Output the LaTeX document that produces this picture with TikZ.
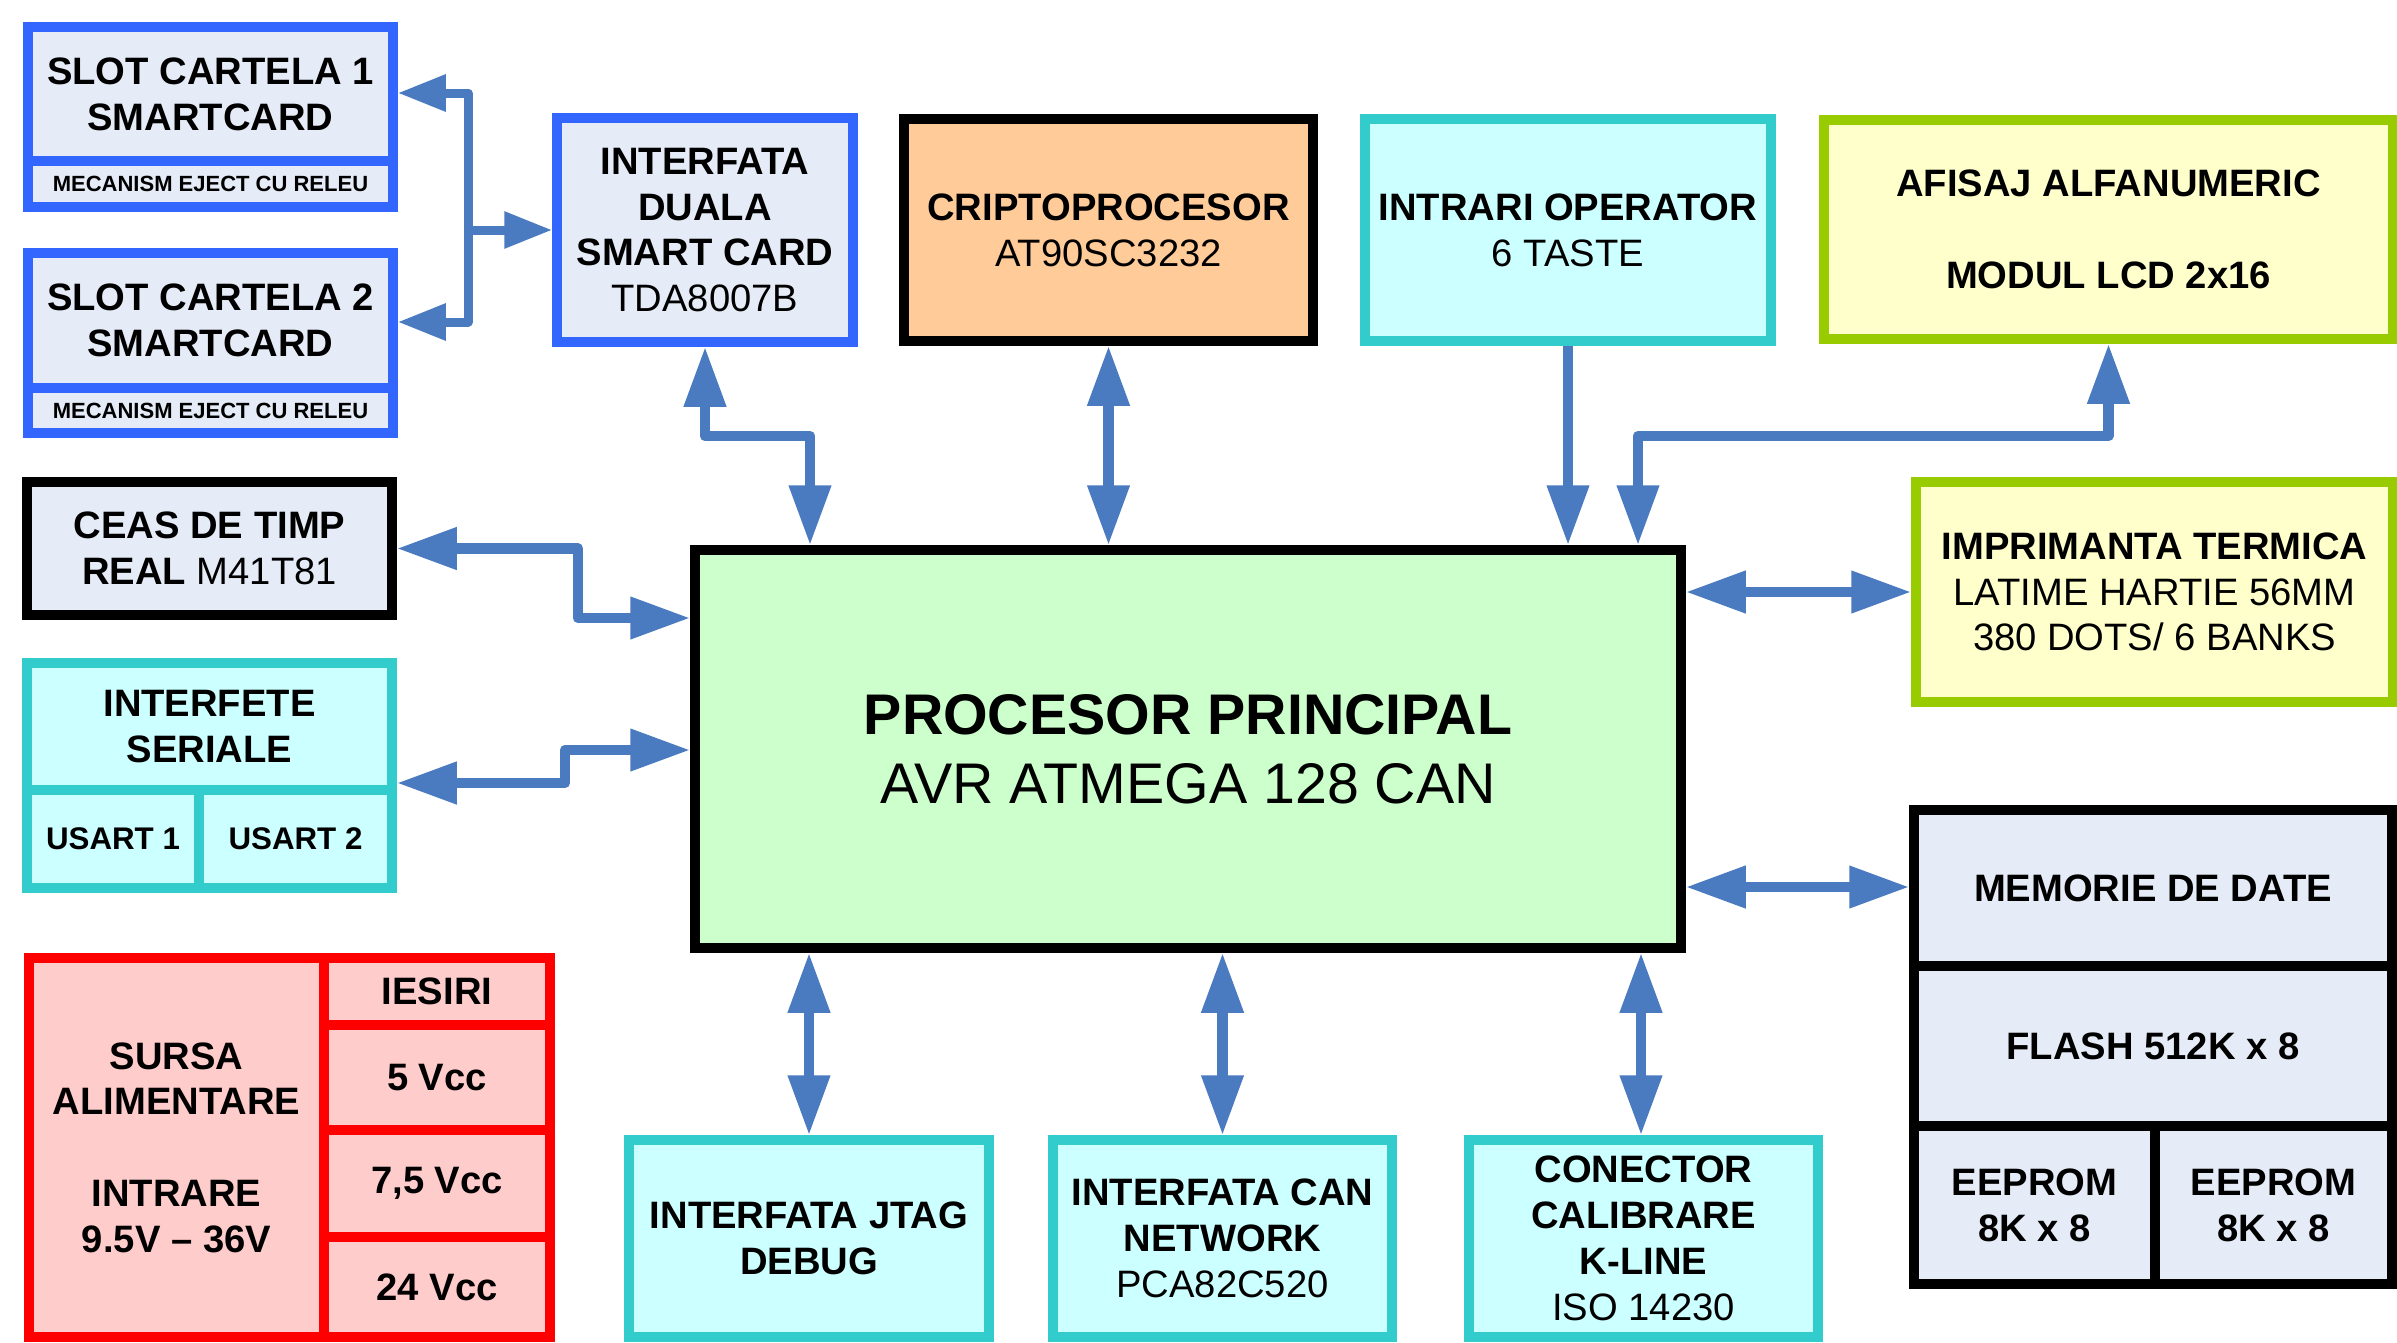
\documentclass[tikz,border=0pt]{standalone}
\usepackage{fontspec}
\setmainfont{Liberation Sans}
\usetikzlibrary{arrows.meta}
\definecolor{cBlueB}{HTML}{3366FF}
\definecolor{cBlueF}{HTML}{E6ECF7}
\definecolor{cCyanB}{HTML}{33CCCC}
\definecolor{cCyanF}{HTML}{CCFFFF}
\definecolor{cGreenB}{HTML}{99CC00}
\definecolor{cGreenF}{HTML}{FFFFCC}
\definecolor{cOrange}{HTML}{FFCC99}
\definecolor{cMain}{HTML}{CCFFCC}
\definecolor{cRedB}{HTML}{FF0000}
\definecolor{cRedF}{HTML}{FFCCCC}
\definecolor{cArrow}{HTML}{4A7AC0}
\tikzset{
  bx/.style={draw, line width=9.5pt, inner sep=0pt, align=center, text=black,
    font=\bfseries\fontsize{38.2}{45.8}\selectfont},
  bluebx/.style={bx, draw=cBlueB, fill=cBlueF},
  blackbx/.style={bx, draw=black, fill=cBlueF},
  orangebx/.style={bx, draw=black, fill=cOrange},
  mainbx/.style={bx, draw=black, fill=cMain, font=\bfseries\fontsize{57.3}{69}\selectfont},
  cyanbx/.style={bx, draw=cCyanB, fill=cCyanF},
  greenbx/.style={bx, draw=cGreenB, fill=cGreenF},
  redbx/.style={bx, draw=cRedB, fill=cRedF},
  smalltxt/.style={font=\bfseries\fontsize{22}{26}\selectfont},
  usarttxt/.style={font=\bfseries\fontsize{31.3}{37.5}\selectfont},
  wire/.style={draw=cArrow, line width=10.5pt, line join=round},
  slotwire/.style={draw=cArrow, line width=9pt, line join=round, >={Triangle[length=48pt,width=35pt]}},
}
\newcommand\BX[7]{\node[#1, minimum width={(#5)-(#3)}, minimum height={(#6)-(#4)}] (#2) at ({((#3)+(#5))/2},{((#4)+(#6))/2}) {#7};}
\begin{document}
\begin{tikzpicture}[x=1pt,y=-1pt,>={Triangle[length=60pt,width=40pt]}]
\useasboundingbox (0,0) rectangle (2397,1342);
\clip (0,0) rectangle (2397,1342);
\fill[white] (0,0) rectangle (2397,1342);

% smartcard slots
\BX{bluebx}{slot1a}{28}{27}{393}{161}{SLOT CARTELA 1\\SMARTCARD}
\BX{bluebx,smalltxt}{slot1b}{28}{161}{393}{207}{MECANISM EJECT CU RELEU}
\BX{bluebx}{slot2a}{28}{253}{393}{388}{SLOT CARTELA 2\\SMARTCARD}
\BX{bluebx,smalltxt}{slot2b}{28}{388}{393}{433}{MECANISM EJECT CU RELEU}

% top row
\BX{bluebx}{iface}{557}{118}{853}{342}{INTERFATA\\DUALA\\SMART CARD\\{\mdseries TDA8007B}}
\BX{orangebx}{crypto}{904}{119}{1313}{341}{CRIPTOPROCESOR\\{\mdseries AT90SC3232}}
\BX{cyanbx}{intr}{1365}{119}{1771}{341}{INTRARI OPERATOR\\{\mdseries 6 TASTE}}
\BX{greenbx}{lcd}{1824}{120}{2393}{339}{AFISAJ ALFANUMERIC\\[45.8pt]MODUL LCD 2x16}

% left column
\BX{blackbx}{ceas}{27}{482}{392}{615}{CEAS DE TIMP\\REAL {\mdseries M41T81}}
\BX{cyanbx}{serA}{27}{663}{392}{790}{INTERFETE\\SERIALE}
\BX{cyanbx,usarttxt}{serB}{27}{790}{199}{888}{USART 1}
\BX{cyanbx,usarttxt}{serC}{199}{790}{392}{888}{USART 2}

% main processor
\BX{mainbx}{main}{695}{550}{1681}{948}{PROCESOR PRINCIPAL\\{\mdseries AVR ATMEGA 128 CAN}}

% right column
\BX{greenbx}{impr}{1916}{482}{2393}{702}{IMPRIMANTA TERMICA\\{\mdseries LATIME HARTIE 56MM}\\{\mdseries 380 DOTS/ 6 BANKS}}
\BX{blackbx}{memA}{1914}{810}{2392}{966}{MEMORIE DE DATE}
\BX{blackbx}{memB}{1914}{966}{2392}{1126}{FLASH 512K x 8}
\BX{blackbx}{memC}{1914}{1126}{2155}{1284}{EEPROM\\8K x 8}
\BX{blackbx}{memD}{2155}{1126}{2392}{1284}{EEPROM\\8K x 8}

% power supply
\BX{redbx}{sursa}{29}{958}{324}{1337}{SURSA\\ALIMENTARE\\[45.8pt]INTRARE\\9.5V – 36V}
\BX{redbx}{out1}{324}{958}{550}{1025}{IESIRI}
\BX{redbx}{out2}{324}{1025}{550}{1130}{5 Vcc}
\BX{redbx}{out3}{324}{1130}{550}{1237}{7,5 Vcc}
\BX{redbx}{out4}{324}{1237}{550}{1337}{24 Vcc}

% bottom row
\BX{cyanbx}{jtag}{629}{1140}{989}{1337}{INTERFATA JTAG\\DEBUG}
\BX{cyanbx}{can}{1053}{1140}{1392}{1337}{INTERFATA CAN\\NETWORK\\{\mdseries PCA82C520}}
\BX{cyanbx}{kline}{1469}{1140}{1818}{1337}{CONECTOR\\CALIBRARE\\K-LINE\\{\mdseries ISO 14230}}

% connectors
\coordinate (b1) at (468,93);
\coordinate (b2) at (468,322);
\coordinate (b3) at (468,230);
\draw[slotwire,<->] (slot1a.east |- b1) -- (b1) -- (b2) -- (slot2a.east |- b2);
\draw[slotwire,->] (b3) -- (iface.west |- b3);

\coordinate (i1) at (810,436);
\draw[wire,<->] (iface.south) |- (i1) -- (i1 |- main.north);
\draw[wire,<->] (crypto.south) -- (crypto.south |- main.north);
\draw[wire,->] (intr.south) -- (intr.south |- main.north);
\coordinate (l1) at (1638,436);
\draw[wire,<->] (lcd.south) |- (l1) -- (l1 |- main.north);

\coordinate (c2) at (578,618);
\draw[wire,<->] (ceas.east) -| (c2) -- (main.west |- c2);
\coordinate (s1) at (565,783);
\coordinate (s2) at (565,750);
\draw[wire,<->] (serA.east |- s1) -- (s1) -- (s2) -- (main.west |- s2);

\coordinate (pp) at (0,592);
\draw[wire,<->] (main.east |- pp) -- (impr.west |- pp);
\coordinate (mm) at (0,887);
\draw[wire,<->] (main.east |- mm) -- (memA.west |- mm);

\draw[wire,<->] (jtag.north) -- (jtag.north |- main.south);
\draw[wire,<->] (can.north) -- (can.north |- main.south);
\coordinate (k1) at (1641,0);
\draw[wire,<->] (kline.north -| k1) -- (k1 |- main.south);
\end{tikzpicture}
\end{document}
